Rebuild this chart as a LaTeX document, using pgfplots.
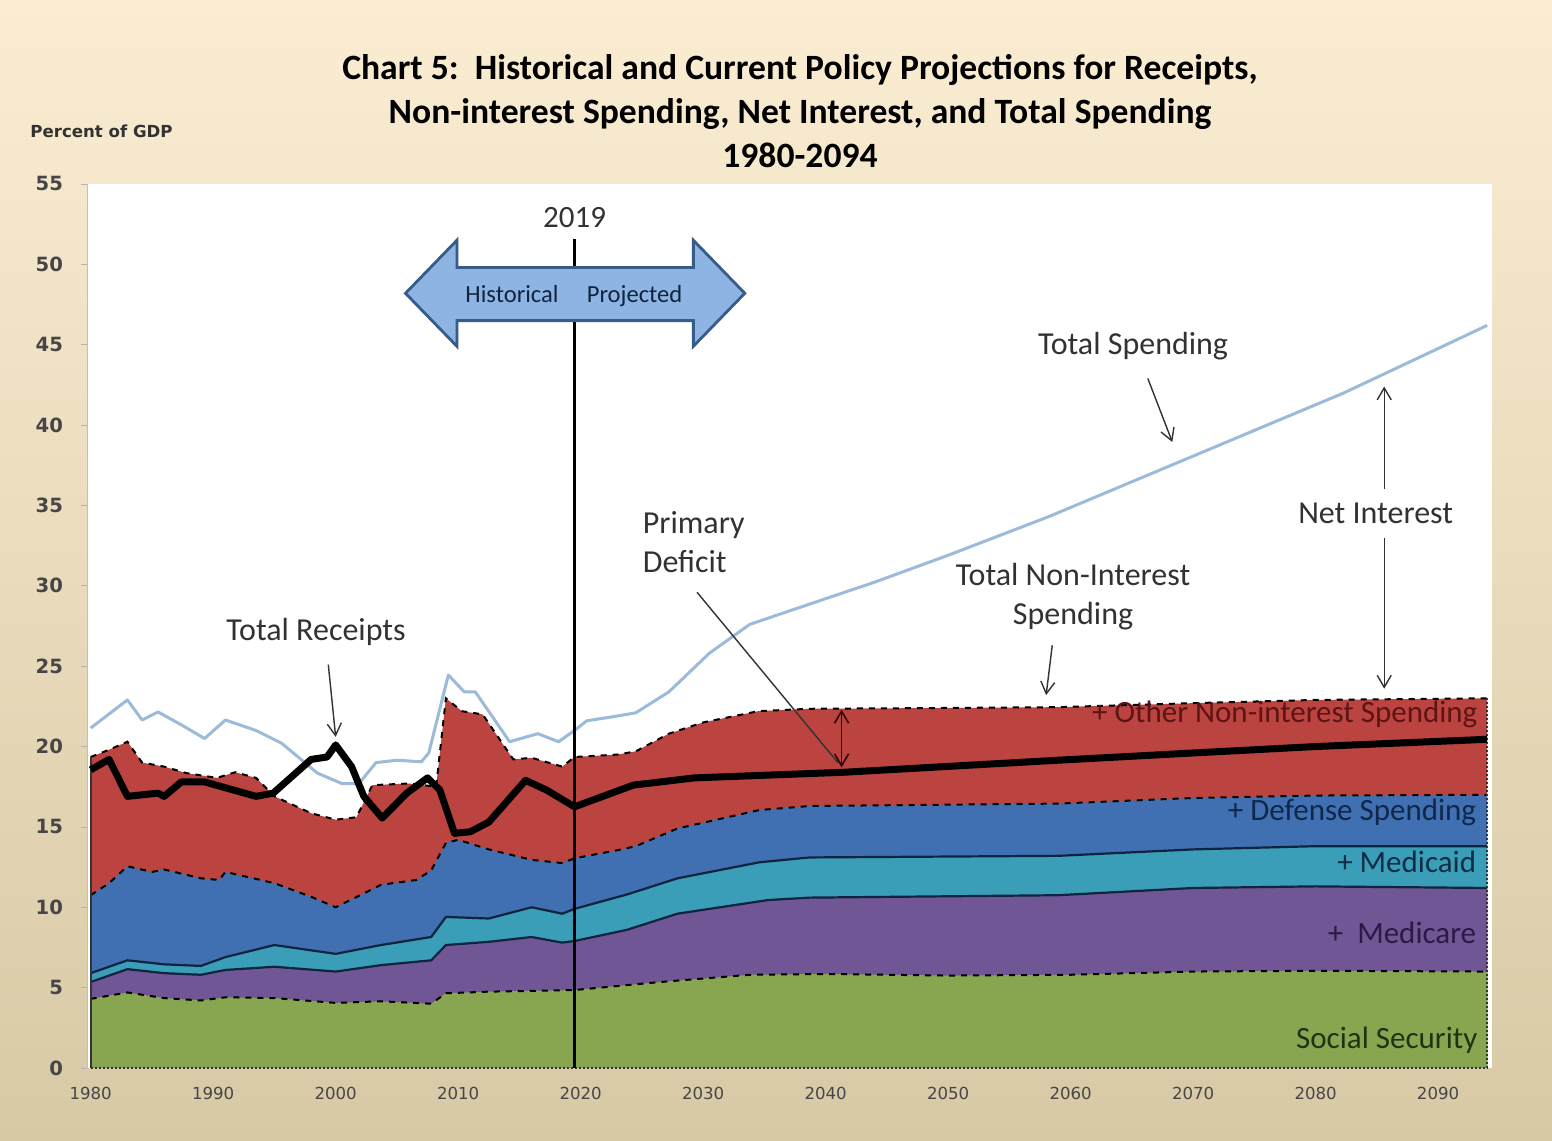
\documentclass[border=0pt]{standalone}
\usepackage{pgfplots}
\pgfplotsset{compat=1.18}
\usetikzlibrary{arrows.meta}
\usepackage{fontspec}
\setmainfont{Carlito}
\newfontfamily\dejavu{DejaVu Sans}

\definecolor{bgtop}{RGB}{251,237,210}
\definecolor{bgbot}{RGB}{216,201,166}
\definecolor{cOther}{RGB}{188,68,64}
\definecolor{cDef}{RGB}{64,112,178}
\definecolor{cMcaid}{RGB}{58,158,184}
\definecolor{cMcare}{RGB}{112,86,148}
\definecolor{cSS}{RGB}{136,166,80}
\definecolor{cSpend}{RGB}{156,186,218}
\definecolor{arrfill}{RGB}{141,180,226}
\definecolor{arrdraw}{RGB}{56,92,138}
\definecolor{annot}{RGB}{50,50,50}
\definecolor{ticktxt}{RGB}{70,70,70}
\definecolor{navy}{RGB}{16,36,63}

\begin{document}
\begin{tikzpicture}
\fill[top color=bgtop, bottom color=bgbot] (0,0) rectangle (776pt,570pt);

% title and unit label
\node[font=\bfseries\fontsize{17.8}{22}\selectfont, align=center] at (400pt,514.5pt)
  {Chart 5:\ \ Historical and Current Policy Projections for Receipts,\\
   Non-interest Spending, Net Interest, and Total Spending\\ 1980-2094};
\node[anchor=west, font=\dejavu\bfseries\fontsize{8.3}{10}\selectfont, text=annot, inner sep=0pt] at (15pt,504.5pt) {Percent of GDP};

\begin{axis}[
  at={(43.5pt,36pt)}, anchor=south west,
  scale only axis, width=702.5pt, height=442pt,
  xmin=1979.7, xmax=2094.4, ymin=0, ymax=55,
  axis background/.style={fill=white},
  axis line style={draw=none},
  xtick={1980,1990,...,2090}, ytick={0,5,...,55},
  ytick pos=left, xtick pos=bottom,
  x tick style={draw=none},
  y tick style={gray!60, thin},
  tick align=outside, major tick length=3pt,
  /pgf/number format/assume math mode=true,
  /pgf/number format/1000 sep={},
  yticklabel style={font=\dejavu\bfseries\fontsize{9.8}{11}\selectfont, text=ticktxt, xshift=-5.5pt},
  xticklabel style={font=\dejavu\fontsize{8.3}{9}\selectfont, text=ticktxt, yshift=-3pt},
  clip=false,
]
\draw[gray!50] (axis cs:1979.7,0) -- (axis cs:1979.7,55);

% cumulative tops of the stacked layers, filled to zero
\addplot[fill=cOther, draw=none] coordinates {
(1980,19.35)(1981.5,19.8)(1983,20.3)(1984.2,19.0)(1986,18.75)(1987.8,18.35)
(1990.3,18.05)(1991.8,18.4)(1993.5,18.05)(1995,16.9)(1998,15.85)(2000,15.45)
(2001.7,15.6)(2003,17.6)(2006,17.7)(2008.2,17.5)(2009,23.0)(2010.3,22.2)
(2012,22.0)(2014.5,19.2)(2016,19.3)(2018.5,18.75)(2019.5,19.35)(2023,19.5)
(2024.5,19.7)(2027.2,20.8)(2030,21.5)(2034.5,22.2)(2038.7,22.35)(2050,22.4)
(2059,22.45)(2070,22.7)(2080,22.9)(2094,23.0)} \closedcycle;
\addplot[fill=cDef, draw=none] coordinates {
(1980,10.75)(1981.5,11.5)(1983,12.55)(1985,12.2)(1986,12.35)(1989,11.8)
(1990.5,11.7)(1991,12.2)(1995,11.5)(1998,10.65)(2000,10.0)(2002,10.75)
(2003.7,11.4)(2006.6,11.7)(2007.8,12.3)(2009,14.0)(2010,14.2)(2012.5,13.6)
(2016,12.95)(2018.5,12.75)(2019.5,13.05)(2023,13.55)(2024.5,13.8)(2027.9,14.9)
(2034.6,16.05)(2038.7,16.3)(2059,16.45)(2070,16.8)(2080,16.95)(2094,17.0)} \closedcycle;
\addplot[fill=cMcaid, draw=none] coordinates {
(1980,5.9)(1983,6.7)(1986,6.45)(1989,6.35)(1991,6.9)(1995,7.65)(2000,7.1)
(2003.7,7.65)(2007.8,8.15)(2009,9.4)(2012.5,9.3)(2016,10.0)(2018.5,9.6)
(2019.5,9.9)(2023.8,10.8)(2027.9,11.8)(2034.6,12.8)(2038.7,13.1)(2059,13.2)
(2070,13.6)(2080,13.8)(2094,13.8)} \closedcycle;
\addplot[fill=cMcare, draw=none] coordinates {
(1980,5.35)(1983,6.15)(1986,5.9)(1989,5.8)(1991,6.1)(1995,6.3)(2000,6.0)
(2003.7,6.4)(2007.8,6.7)(2009,7.65)(2012.5,7.85)(2016,8.15)(2018.5,7.8)
(2019.5,7.9)(2023.8,8.6)(2027.9,9.6)(2035.3,10.45)(2038.7,10.6)(2059,10.75)
(2070,11.2)(2080,11.3)(2094,11.2)} \closedcycle;
\addplot[fill=cSS, draw=none] coordinates {
(1980,4.3)(1983,4.7)(1986,4.35)(1989,4.2)(1991,4.4)(1995,4.35)(2000,4.05)
(2003.7,4.15)(2007.8,4.0)(2009,4.65)(2012.5,4.75)(2019.5,4.85)(2026.5,5.35)
(2033.8,5.8)(2040,5.85)(2050,5.75)(2060,5.8)(2070,6.0)(2080,6.05)(2094,6.0)} \closedcycle;

% boundaries between the layers
\addplot[black, dashed, line width=1pt] coordinates {
(1980,19.35)(1981.5,19.8)(1983,20.3)(1984.2,19.0)(1986,18.75)(1987.8,18.35)
(1990.3,18.05)(1991.8,18.4)(1993.5,18.05)(1995,16.9)(1998,15.85)(2000,15.45)
(2001.7,15.6)(2003,17.6)(2006,17.7)(2008.2,17.5)(2009,23.0)(2010.3,22.2)
(2012,22.0)(2014.5,19.2)(2016,19.3)(2018.5,18.75)(2019.5,19.35)(2023,19.5)
(2024.5,19.7)(2027.2,20.8)(2030,21.5)(2034.5,22.2)(2038.7,22.35)(2050,22.4)
(2059,22.45)(2070,22.7)(2080,22.9)(2094,23.0)};
\addplot[black, dashed, line width=1pt] coordinates {
(1980,10.75)(1981.5,11.5)(1983,12.55)(1985,12.2)(1986,12.35)(1989,11.8)
(1990.5,11.7)(1991,12.2)(1995,11.5)(1998,10.65)(2000,10.0)(2002,10.75)
(2003.7,11.4)(2006.6,11.7)(2007.8,12.3)(2009,14.0)(2010,14.2)(2012.5,13.6)
(2016,12.95)(2018.5,12.75)(2019.5,13.05)(2023,13.55)(2024.5,13.8)(2027.9,14.9)
(2034.6,16.05)(2038.7,16.3)(2059,16.45)(2070,16.8)(2080,16.95)(2094,17.0)};
\addplot[navy, line width=1.1pt] coordinates {
(1980,5.9)(1983,6.7)(1986,6.45)(1989,6.35)(1991,6.9)(1995,7.65)(2000,7.1)
(2003.7,7.65)(2007.8,8.15)(2009,9.4)(2012.5,9.3)(2016,10.0)(2018.5,9.6)
(2019.5,9.9)(2023.8,10.8)(2027.9,11.8)(2034.6,12.8)(2038.7,13.1)(2059,13.2)
(2070,13.6)(2080,13.8)(2094,13.8)};
\addplot[navy, line width=1.1pt] coordinates {
(1980,5.35)(1983,6.15)(1986,5.9)(1989,5.8)(1991,6.1)(1995,6.3)(2000,6.0)
(2003.7,6.4)(2007.8,6.7)(2009,7.65)(2012.5,7.85)(2016,8.15)(2018.5,7.8)
(2019.5,7.9)(2023.8,8.6)(2027.9,9.6)(2035.3,10.45)(2038.7,10.6)(2059,10.75)
(2070,11.2)(2080,11.3)(2094,11.2)};
\addplot[black, dashed, line width=1pt] coordinates {
(1980,4.3)(1983,4.7)(1986,4.35)(1989,4.2)(1991,4.4)(1995,4.35)(2000,4.05)
(2003.7,4.15)(2007.8,4.0)(2009,4.65)(2012.5,4.75)(2019.5,4.85)(2026.5,5.35)
(2033.8,5.8)(2040,5.85)(2050,5.75)(2060,5.8)(2070,6.0)(2080,6.05)(2094,6.0)};
\addplot[black!80, line width=0.9pt] coordinates {(1980,0)(1980,19.35)};
\addplot[black!80, densely dotted, line width=1pt] coordinates {(2094,0)(2094,23.0)};
\addplot[black!80, densely dotted, line width=1pt] coordinates {(1980,0)(2094,0)};

% total spending
\addplot[cSpend, line width=1.5pt, line join=round] coordinates {
(1980,21.15)(1983,22.9)(1984.2,21.65)(1985.5,22.15)(1987.4,21.35)(1989.3,20.5)
(1991,21.65)(1993.5,21.0)(1995.6,20.2)(1998.5,18.35)(2000.5,17.7)(2001.9,17.7)
(2003.3,19.0)(2005,19.15)(2007,19.05)(2007.6,19.6)(2009.2,24.45)(2010.5,23.4)
(2011.4,23.4)(2014.2,20.3)(2016.5,20.8)(2018.2,20.3)(2019.5,21.0)(2020.5,21.6)
(2023,21.9)(2024.5,22.1)(2027.2,23.4)(2030.5,25.8)(2033.8,27.6)(2040,29.2)
(2043.9,30.2)(2050,31.9)(2058.2,34.3)(2067.9,37.4)(2082.3,42.0)(2094,46.2)};

% total receipts
\addplot[black, line width=3.5pt, line join=round] coordinates {
(1980,18.55)(1981.5,19.2)(1983,16.9)(1985.5,17.1)(1986,16.9)(1987.4,17.8)
(1989.3,17.8)(1993.5,16.9)(1994.9,17.1)(1998,19.2)(1999.3,19.35)(2000,20.1)
(2001.3,18.75)(2002.3,16.9)(2003.8,15.55)(2005.8,17.1)(2007.5,18.05)(2008.5,17.3)
(2009.7,14.6)(2011,14.7)(2012.5,15.3)(2015.5,17.9)(2017.2,17.3)(2019.5,16.25)
(2024.3,17.6)(2029.3,18.05)(2041.5,18.4)(2059,19.15)(2070,19.6)(2080,20.0)(2094,20.45)};

% 2019 divider and historical/projected arrow
\draw[black, line width=1.5pt] (axis cs:2019.5,0) -- (axis cs:2019.5,51.6);
\node[font=\fontsize{15.5}{18}\selectfont, text=annot] at (axis cs:2019.5,52.9) {2019};
\draw[fill=arrfill, draw=arrdraw, line width=1.4pt, line join=miter]
  (axis cs:2005.7,48.2) -- (axis cs:2009.9,51.5) -- (axis cs:2009.9,49.8)
  -- (axis cs:2029.2,49.8) -- (axis cs:2029.2,51.5) -- (axis cs:2033.4,48.2)
  -- (axis cs:2029.2,44.9) -- (axis cs:2029.2,46.5) -- (axis cs:2009.9,46.5)
  -- (axis cs:2009.9,44.9) -- cycle;
\node[font=\fontsize{12.3}{14}\selectfont, text=navy, anchor=base] at (axis cs:2014.4,47.6) {Historical};
\node[font=\fontsize{12.3}{14}\selectfont, text=navy, anchor=base] at (axis cs:2024.4,47.6) {Projected};

% annotations
\tikzset{ann/.style={font=\fontsize{16}{19.5}\selectfont, text=annot, align=center},
         arr/.style={-{Straight Barb[length=6pt,width=7pt]}, annot, line width=0.7pt}}
\node[ann] at (axis cs:1998.4,27.1) {Total Receipts};
\draw[arr] (axis cs:1999.4,25.1) -- (axis cs:2000.0,20.6);
\node[ann] at (axis cs:2065.1,44.9) {Total Spending};
\draw[arr] (axis cs:2066.3,42.9) -- (axis cs:2068.3,38.95);
\node[ann, anchor=west, align=left] at (axis cs:2024.5,32.7) {Primary\\Deficit};
\draw[annot, line width=0.7pt] (axis cs:2029.5,29.6) -- (axis cs:2041.0,19.0);
\draw[{Straight Barb[length=6pt,width=7pt]}-{Straight Barb[length=6pt,width=7pt]}, black!70!red!60!black, line width=0.8pt]
  (axis cs:2041.3,22.3) -- (axis cs:2041.3,18.7);
\node[ann] at (axis cs:2060.2,29.3) {Total Non-Interest\\Spending};
\draw[arr] (axis cs:2058.5,26.3) -- (axis cs:2058.0,23.2);
\node[ann] at (axis cs:2084.9,34.5) {Net Interest};
\draw[arr] (axis cs:2085.6,33.0) -- (axis cs:2085.6,23.6);
\draw[arr] (axis cs:2085.6,36.0) -- (axis cs:2085.6,42.4);

% series labels
\tikzset{slab/.style={font=\fontsize{15.5}{18}\selectfont, anchor=east, inner sep=1pt}}
\node[slab, text={rgb,255:red,92;green,20;blue,20}] at (axis cs:2093.4,22.0) {+ Other Non-interest Spending};
\node[slab, text={rgb,255:red,15;green,40;blue,74}] at (axis cs:2093.3,15.9) {+ Defense Spending};
\node[slab, text={rgb,255:red,15;green,45;blue,70}] at (axis cs:2093.3,12.8) {+ Medicaid};
\node[slab, text={rgb,255:red,43;green,26;blue,69}] at (axis cs:2093.3,8.4) {+\ \ Medicare};
\node[slab, text={rgb,255:red,30;green,51;blue,18}] at (axis cs:2093.4,1.7) {Social Security};
\end{axis}
\end{tikzpicture}
\end{document}
